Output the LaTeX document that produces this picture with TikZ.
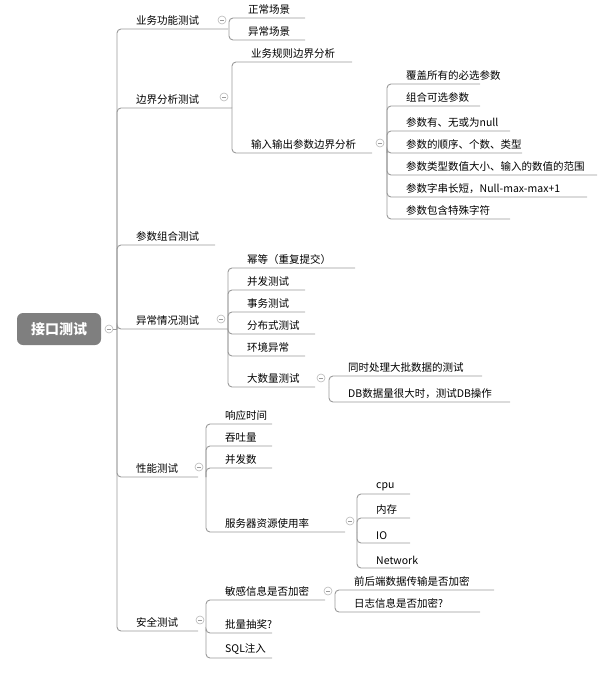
\documentclass[tikz,border=0pt]{standalone}
\usepackage{fontspec}
\setmainfont{Noto Sans CJK SC}
\usetikzlibrary{calc}
\definecolor{linegray}{HTML}{9A9A9A}
\definecolor{rootgray}{HTML}{7F7F7F}
\tikzset{
	link/.style={draw=linegray, line width=0.9pt, rounded corners=4pt},
	lbl/.style={anchor=south west, inner sep=1pt, font=\fontsize{10.5}{12}\selectfont},
	fold/.style={circle, draw=linegray!70, line width=0.6pt, minimum size=8pt, inner sep=0pt,
		path picture={\draw[linegray] ($(path picture bounding box.center)+(-2pt,0)$) -- ++(4pt,0);}}
}
% trunk x, parent y, child y, right end, text
\newcommand\twig[6]{%
	\draw[link] (#1,#2) -- (#1,#3) -- (#4,#3);
	\node[lbl] (#6) at (#1+18,#3-2) {#5};}
\begin{document}
\begin{tikzpicture}[x=1pt, y=-1pt]
	\useasboundingbox (0,0) rectangle (607,676);
	
	% root
	\node[fill=rootgray, rounded corners=6pt, minimum width=84pt, minimum height=32pt,
		text=white, font=\fontsize{14}{16}\selectfont\bfseries] (root) at (59,329) {接口测试};
	\node[fold] (rootfold) at (109,329) {};
	\draw[link] (rootfold) -- (117,329);
	
	% level 1
	\twig{117}{329}{29}{228}{业务功能测试}{func}
	\twig{117}{329}{108}{232}{边界分析测试}{bound}
	\twig{117}{329}{245}{215}{参数组合测试}{combo}
	\twig{117}{329}{329}{228}{异常情况测试}{abnorm}
	\twig{117}{329}{477}{198}{性能测试}{perf}
	\twig{117}{329}{631}{198}{安全测试}{secu}
	
	\node[fold] at (222,20) {};
	\node[fold] at (224,97) {};
	\node[fold] at (221,319) {};
	\node[fold] at (199,467) {};
	\node[fold] at (200,620) {};
	
	% 业务功能测试
	\twig{229}{29}{18}{305}{正常场景}{f1}
	\twig{229}{29}{40}{305}{异常场景}{f2}
	
	% 边界分析测试
	\twig{232}{108}{62}{352}{业务规则边界分析}{b1}
	\twig{232}{108}{153}{372}{输入输出参数边界分析}{b2}
	\node[fold] at (380,143) {};
	\twig{387}{153}{84}{480}{覆盖所有的必选参数}{p1}
	\twig{387}{153}{106}{480}{组合可选参数}{p2}
	\twig{387}{153}{131}{510}{参数有、无或为null}{p3}
	\twig{387}{153}{153}{522}{参数的顺序、个数、类型}{p4}
	\twig{387}{153}{175}{597}{参数类型数值大小、输入的数值的范围}{p5}
	\twig{387}{153}{197}{587}{参数字串长短，Null-max-max+1}{p6}
	\twig{387}{153}{219}{510}{参数包含特殊字符}{p7}
	
	% 异常情况测试
	\twig{228}{329}{268}{355}{幂等（重复提交）}{a1}
	\twig{228}{329}{290}{305}{并发测试}{a2}
	\twig{228}{329}{312}{305}{事务测试}{a3}
	\twig{228}{329}{334}{315}{分布式测试}{a4}
	\twig{228}{329}{356}{305}{环境异常}{a5}
	\twig{228}{329}{387}{315}{大数量测试}{a6}
	\node[fold] at (321,378) {};
	\twig{329}{387}{376}{482}{同时处理大批数据的测试}{d1}
	\twig{329}{387}{402}{510}{DB数据量很大时，测试DB操作}{d2}
	
	% 性能测试
	\twig{206}{477}{424}{272}{响应时间}{r1}
	\twig{206}{477}{446}{272}{吞吐量}{r2}
	\twig{206}{477}{468}{272}{并发数}{r3}
	\twig{206}{477}{532}{345}{服务器资源使用率}{r4}
	\node[fold] at (350,521) {};
	\twig{357}{532}{494}{410}{cpu}{s1}
	\twig{357}{532}{518}{410}{内存}{s2}
	\twig{357}{532}{543}{410}{IO}{s3}
	\twig{357}{532}{568}{410}{Network}{s4}
	
	% 安全测试
	\twig{206}{631}{600}{325}{敏感信息是否加密}{c1}
	\node[fold] at (328,591) {};
	\twig{335}{600}{590}{494}{前后端数据传输是否加密}{e1}
	\twig{335}{600}{612}{480}{日志信息是否加密?}{e2}
	\twig{206}{631}{633}{272}{批量抽奖?}{c2}
	\twig{206}{631}{658}{272}{SQL注入}{c3}
\end{tikzpicture}
\end{document}
